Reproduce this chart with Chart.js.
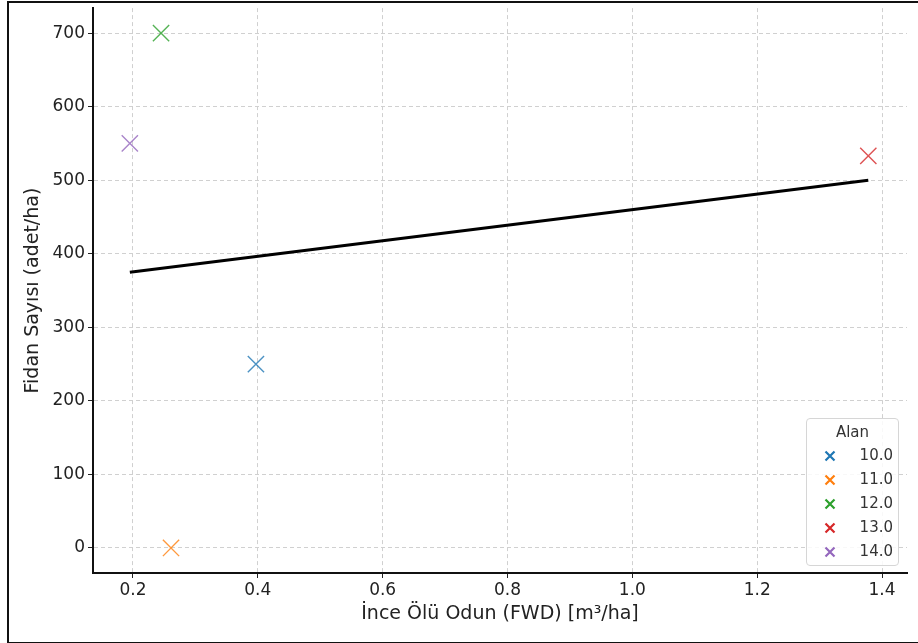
<!DOCTYPE html>
<html>
<head>
<meta charset="utf-8">
<script src="https://cdn.jsdelivr.net/npm/chart.js@4.4.1/dist/chart.umd.min.js"></script>
<style>
  html, body { margin: 0; padding: 0; background: #fff; }
  #wrap { position: relative; width: 918px; height: 643px; font-family: 'DejaVu Sans', sans-serif; }
  #frame {
    position: absolute; left: 7px; top: 1px; width: 920px; height: 639px;
    border-top: 2px solid #111; border-left: 2px solid #111; border-bottom: 2px solid #111;
    pointer-events: none;
  }
  #legend {
    position: absolute; left: 806px; top: 418px; width: 91px; height: 146px;
    border: 1px solid #d6d6d6; border-radius: 4px; background: rgba(255,255,255,0.85);
    color: #333; font-size: 15px;
  }
  #legend .title { text-align: center; margin-top: 4px; height: 21px; }
  #legend .row { position: relative; height: 24px; }
  #legend svg { position: absolute; left: 17px; top: 6px; }
  #legend .lbl { position: absolute; right: 5px; top: 2px; }
</style>
</head>
<body>
<div id="wrap">
  <canvas id="chart" width="918" height="643"></canvas>
  <div id="frame"></div>
  <div id="legend"><div class="title">Alan</div></div>
</div>
<script>
const groups = ['10.0', '11.0', '12.0', '13.0', '14.0'];
const fwdValues = [0.397, 0.261, 0.245, 1.378, 0.195];
const fidanValues = [250, 0, 700, 533, 550];
const groupColors = ['#1f77b4', '#ff7f0e', '#2ca02c', '#d62728', '#9467bd'];
const trendX = [0.195, 1.378];
const trendY = [375, 500];
const xTicks = [0.2, 0.4, 0.6, 0.8, 1.0, 1.2, 1.4];
const yTicks = [0, 100, 200, 300, 400, 500, 600, 700];

function fade(hex, a) {
  const n = parseInt(hex.slice(1), 16);
  return `rgba(${(n >> 16) & 255},${(n >> 8) & 255},${n & 255},${a})`;
}

const datasets = groups.map((g, i) => ({
  type: 'scatter',
  label: g,
  data: [{ x: fwdValues[i], y: fidanValues[i] }],
  pointStyle: 'crossRot',
  radius: 11.5,
  borderWidth: 1.4,
  borderColor: fade(groupColors[i], 0.8),
  backgroundColor: fade(groupColors[i], 0.8),
}));

datasets.unshift({
  type: 'line',
  label: 'trend',
  data: trendX.map((x, i) => ({ x, y: trendY[i] })),
  borderColor: '#000',
  borderWidth: 3,
  pointRadius: 0,
  fill: false,
});

const tickFont = { family: 'DejaVu Sans', size: 17 };
const titleFont = { family: 'DejaVu Sans', size: 19 };

new Chart(document.getElementById('chart'), {
  data: { datasets },
  options: {
    responsive: false,
    animation: false,
    layout: { autoPadding: false, padding: { top: 8, right: 11, left: 0, bottom: 0 } },
    plugins: { legend: { display: false }, tooltip: { enabled: false } },
    scales: {
      x: {
        type: 'linear',
        min: 0.136,
        max: 1.44,
        afterBuildTicks: (s) => { s.ticks = xTicks.map((v) => ({ value: v })); },
        afterFit: (s) => { s.height = 70; },
        ticks: { font: tickFont, color: '#222', padding: 2, maxRotation: 0, callback: (v) => v.toFixed(1) },
        grid: { color: '#d0d0d0', lineWidth: 1, tickColor: '#222', tickLength: 5, tickBorderDash: [] },
        border: { display: true, color: '#111', width: 2, dash: [4, 3] },
        title: { display: true, text: 'İnce Ölü Odun (FWD) [m³/ha]', font: titleFont, color: '#222', padding: { top: 0, bottom: 18 } },
      },
      y: {
        type: 'linear',
        min: -34,
        max: 734,
        afterBuildTicks: (s) => { s.ticks = yTicks.map((v) => ({ value: v })); },
        afterFit: (s) => { s.width = 93; },
        // small lineHeight keeps the label half-height from pushing the plot top down
        ticks: { font: { ...tickFont, lineHeight: 0.6 }, color: '#222', padding: 3 },
        grid: { color: '#d0d0d0', lineWidth: 1, tickColor: '#222', tickLength: 5, tickBorderDash: [] },
        border: { display: true, color: '#111', width: 2, dash: [4, 3] },
        title: { display: true, text: 'Fidan Sayısı (adet/ha)', font: titleFont, color: '#222', padding: { top: 22, bottom: 0 } },
      },
    },
  },
});

// legend inside the plot, lower right
const legend = document.getElementById('legend');
groups.forEach((g, i) => {
  const row = document.createElement('div');
  row.className = 'row';
  row.innerHTML = `
    <svg width="12" height="12"><path d="M1.5 1.5 L10.5 10.5 M10.5 1.5 L1.5 10.5" stroke="${groupColors[i]}" stroke-width="2.2"/></svg>
    <span class="lbl">${g}</span>`;
  legend.appendChild(row);
});
</script>
</body>
</html>
